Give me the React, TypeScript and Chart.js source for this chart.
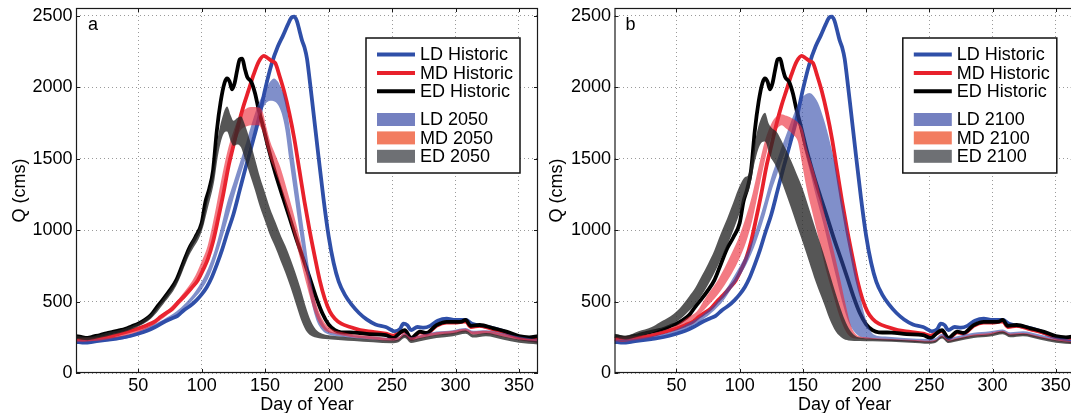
import React, { useEffect, useRef } from "react";
import { Chart, registerables } from "chart.js";
Chart.register(...registerables);

type P = [number, number];

// ---------- tick labels ----------
const xTicks = [50, 100, 150, 200, 250, 300, 350];
const yTicks = [0, 500, 1000, 1500, 2000, 2500];

// ---------- historic series (day, Q) ----------
const ldHistoric: P[] = [[1,218],[8,212],[15,220],[22,228],[30,238],[40,252],[50,275],[57,295],[63,320],[70,355],[76,380],[81,400],[86,440],[91,470],[96,510],[100,550],[104,600],[108,670],[112,760],[116,860],[120,975],[125,1110],[130,1280],[135,1450],[140,1610],[145,1780],[150,1985],[155,2160],[160,2285],[164,2360],[168,2440],[171,2490],[173,2495],[175,2465],[177,2400],[179,2330],[181,2280],[183,2200],[185,2060],[188,1830],[192,1520],[196,1220],[200,960],[204,770],[208,640],[213,545],[218,480],[224,420],[230,375],[237,340],[245,322],[252,292],[256,305],[259,345],[262,335],[265,300],[270,322],[275,318],[280,330],[286,365],[293,380],[300,372],[308,372],[313,345],[320,330],[328,318],[337,295],[346,262],[355,238],[365,228]];
const mdHistoric: P[] = [[1,238],[8,232],[15,240],[22,250],[30,262],[40,285],[50,312],[57,335],[63,360],[68,395],[72,420],[77,450],[82,500],[87,545],[92,595],[97,650],[101,720],[105,800],[109,920],[113,1080],[117,1250],[121,1440],[125,1590],[129,1740],[133,1870],[137,1980],[141,2090],[145,2180],[149,2220],[152,2205],[155,2185],[158,2170],[161,2090],[165,1970],[169,1820],[173,1640],[177,1420],[181,1200],[185,1000],[189,820],[193,650],[197,520],[201,430],[205,380],[210,345],[217,322],[225,300],[235,288],[245,275],[251,262],[256,278],[260,295],[265,240],[272,285],[277,275],[285,330],[293,352],[301,352],[308,362],[312,322],[319,330],[330,305],[340,282],[350,250],[358,242],[365,248]];
const edHistoric: P[] = [[1,258],[5,252],[10,246],[15,256],[20,266],[25,278],[30,288],[35,298],[40,310],[45,328],[50,345],[55,370],[60,405],[65,465],[70,520],[75,580],[80,650],[85,760],[90,870],[95,950],[100,1050],[103,1200],[106,1290],[109,1420],[112,1700],[115,1900],[118,2030],[120,2062],[122,2040],[124,1985],[126,2030],[128,2120],[130,2195],[132,2200],[134,2130],[136,2070],[139,2040],[142,1960],[145,1840],[148,1740],[153,1560],[158,1400],[164,1230],[169,1095],[174,955],[180,800],[185,670],[190,535],[195,420],[200,340],[205,300],[210,285],[220,283],[232,272],[245,265],[251,245],[256,280],[260,300],[265,245],[272,290],[277,280],[285,335],[293,358],[301,358],[305,360],[308,372],[312,330],[319,336],[330,313],[340,290],[350,258],[358,250],[365,258]];

// ---------- 2050 ranges (upper / lower envelopes) ----------
const ld2050Upper: P[] = [[1,232],[20,240],[40,262],[50,292],[60,330],[70,375],[80,430],[88,495],[95,570],[100,640],[105,730],[110,850],[115,1010],[120,1190],[125,1330],[130,1470],[135,1610],[140,1760],[145,1890],[150,1975],[154,2040],[157,2062],[160,2040],[163,1985],[166,1910],[169,1740],[173,1480],[177,1220],[181,960],[185,710],[190,480],[195,360],[200,300],[208,280],[220,265],[235,255],[250,245],[255,250],[260,280],[265,250],[272,265],[285,290],[298,300],[308,315],[314,295],[324,300],[337,280],[350,255],[365,235]];
const ld2050Lower: P[] = [[1,210],[20,218],[40,240],[50,268],[60,305],[70,350],[80,400],[88,462],[95,530],[100,585],[105,660],[110,770],[115,910],[120,1060],[125,1220],[130,1370],[135,1510],[140,1650],[145,1790],[150,1880],[154,1905],[157,1902],[160,1880],[163,1820],[166,1700],[169,1500],[173,1250],[177,1000],[181,780],[185,560],[190,380],[195,300],[200,270],[208,258],[220,242],[235,232],[250,222],[255,227],[260,257],[265,227],[272,242],[285,267],[298,277],[308,292],[314,272],[324,277],[337,257],[350,232],[365,212]];
const md2050Upper: P[] = [[1,245],[20,252],[40,285],[50,312],[60,350],[70,415],[80,500],[90,610],[95,680],[100,780],[105,900],[110,1100],[115,1330],[120,1540],[125,1690],[130,1805],[135,1850],[140,1862],[145,1858],[148,1830],[151,1720],[154,1620],[158,1530],[162,1440],[167,1290],[172,1130],[177,955],[182,770],[187,590],[192,440],[197,350],[203,305],[211,285],[220,270],[235,258],[250,245],[255,250],[260,278],[265,248],[272,262],[285,285],[298,295],[308,310],[314,290],[324,295],[337,275],[350,250],[365,232]];
const md2050Lower: P[] = [[1,220],[20,228],[40,262],[50,288],[60,325],[70,385],[80,460],[90,555],[95,615],[100,700],[105,800],[110,960],[115,1160],[120,1370],[125,1560],[130,1690],[135,1725],[140,1735],[145,1735],[148,1690],[151,1590],[154,1500],[158,1410],[162,1310],[167,1150],[172,990],[177,820],[182,640],[187,480],[192,360],[197,300],[203,278],[211,262],[220,248],[235,235],[250,222],[255,227],[260,255],[265,225],[272,240],[285,262],[298,272],[308,287],[314,267],[324,272],[337,252],[350,228],[365,210]];
const ed2050Upper: P[] = [[1,262],[10,252],[20,270],[30,292],[40,314],[50,350],[60,412],[70,525],[80,655],[90,880],[100,1060],[105,1250],[110,1460],[113,1660],[117,1810],[120,1865],[123,1800],[125,1765],[128,1785],[131,1795],[134,1740],[138,1630],[142,1500],[146,1370],[150,1260],[154,1150],[158,1060],[162,970],[166,890],[170,800],[174,700],[178,590],[182,465],[186,365],[190,305],[195,275],[200,265],[210,255],[220,245],[235,235],[250,228],[255,235],[260,268],[265,232],[272,245],[285,268],[298,280],[308,298],[314,270],[324,280],[337,258],[350,235],[365,222]];
const ed2050Lower: P[] = [[1,238],[10,230],[20,246],[30,268],[40,290],[50,325],[60,380],[70,485],[80,610],[90,820],[100,990],[105,1160],[110,1350],[113,1530],[117,1670],[120,1690],[123,1620],[125,1590],[128,1600],[131,1580],[134,1500],[138,1390],[142,1280],[146,1160],[150,1060],[154,960],[158,880],[162,790],[166,700],[170,600],[174,490],[178,380],[182,300],[186,262],[190,248],[195,240],[200,236],[210,230],[220,224],[235,215],[250,208],[255,215],[260,245],[265,210],[272,222],[285,245],[298,258],[308,275],[314,248],[324,258],[337,235],[350,212],[365,200]];

// ---------- 2100 ranges (upper / lower envelopes) ----------
const ld2100Upper: P[] = [[1,240],[20,248],[40,275],[50,305],[60,350],[70,405],[80,480],[87,555],[93,640],[98,715],[105,830],[110,930],[115,1060],[120,1210],[125,1370],[130,1500],[135,1625],[140,1745],[145,1860],[148,1915],[152,1950],[155,1960],[158,1945],[162,1890],[166,1790],[169,1700],[174,1515],[179,1290],[184,1060],[189,830],[194,600],[198,430],[202,320],[206,270],[215,255],[230,245],[250,238],[255,245],[260,275],[265,245],[272,258],[285,282],[298,292],[308,305],[314,285],[324,292],[337,270],[350,248],[365,230]];
const ld2100Lower: P[] = [[1,218],[20,225],[40,252],[50,280],[60,320],[70,370],[80,440],[87,505],[93,585],[98,650],[105,755],[110,850],[115,970],[120,1110],[125,1270],[130,1400],[135,1525],[140,1645],[145,1750],[148,1700],[151,1570],[155,1430],[160,1250],[166,1050],[171,865],[176,680],[181,500],[186,360],[191,285],[196,250],[205,235],[215,228],[230,222],[250,215],[255,222],[260,252],[265,222],[272,235],[285,260],[298,270],[308,283],[314,262],[324,270],[337,248],[350,225],[365,208]];
const md2100Upper: P[] = [[1,250],[20,262],[40,300],[50,335],[60,395],[66,430],[74,540],[82,640],[88,735],[94,845],[100,965],[105,1095],[110,1250],[115,1445],[120,1625],[125,1745],[129,1795],[133,1812],[137,1800],[142,1780],[147,1745],[150,1700],[153,1575],[158,1435],[163,1270],[168,1080],[174,870],[179,675],[184,470],[188,330],[192,270],[200,250],[210,242],[220,238],[235,232],[250,225],[255,232],[260,262],[265,232],[272,245],[285,270],[298,280],[308,295],[314,275],[324,280],[337,258],[350,236],[365,220]];
const md2100Lower: P[] = [[1,228],[20,240],[40,278],[50,310],[60,360],[66,392],[74,462],[82,540],[88,615],[94,700],[100,805],[105,915],[110,1070],[115,1280],[120,1490],[125,1650],[129,1705],[133,1735],[137,1710],[142,1670],[146,1620],[149,1480],[153,1290],[158,1105],[163,920],[168,730],[174,545],[179,395],[184,290],[188,250],[195,238],[205,232],[220,225],[235,220],[250,212],[255,218],[260,248],[265,218],[272,230],[285,255],[298,265],[308,280],[314,260],[324,265],[337,243],[350,222],[365,205]];
const ed2100Upper: P[] = [[1,275],[10,262],[20,292],[30,320],[37,356],[45,395],[50,430],[55,478],[60,535],[65,598],[70,680],[75,765],[80,860],[85,975],[90,1080],[95,1195],[100,1310],[104,1370],[107,1390],[110,1520],[114,1700],[117,1785],[120,1822],[123,1745],[126,1710],[129,1690],[134,1610],[140,1500],[145,1395],[150,1285],[156,1120],[161,980],[166,845],[171,700],[176,555],[181,420],[185,335],[190,270],[195,248],[205,240],[220,234],[235,228],[250,220],[255,228],[260,258],[265,226],[272,240],[285,262],[298,272],[308,290],[314,268],[324,275],[337,252],[350,230],[365,215]];
const ed2100Lower: P[] = [[1,250],[10,236],[20,258],[30,280],[37,305],[45,332],[50,358],[55,392],[60,435],[65,482],[70,545],[75,618],[80,700],[85,795],[90,890],[95,1000],[100,1120],[104,1220],[108,1300],[112,1480],[117,1610],[120,1620],[124,1520],[129,1440],[134,1320],[140,1170],[145,1040],[150,910],[155,775],[160,640],[166,500],[171,380],[176,290],[181,245],[186,228],[195,224],[205,222],[220,218],[235,212],[250,205],[255,212],[260,242],[265,210],[272,222],[285,245],[298,255],[308,272],[314,250],[324,258],[337,235],[350,212],[365,200]];

// ---------- styles ----------
const FONT = "'Liberation Sans', Arial, Helvetica, sans-serif";
const LD_LINE = "#2f4fa8";
const MD_LINE = "#e8212b";
const ED_LINE = "#000000";
const LD_BAND = "rgba(50,75,170,0.62)";
const MD_BAND = "rgba(236,40,55,0.62)";
const ED_BAND = "rgba(38,38,38,0.78)";
const LD_SWATCH = "#7480c0";
const MD_SWATCH = "#f27c60";
const ED_SWATCH = "#6e7074";

const toPts = (a: P[]) => a.map(([x, y]) => ({ x, y }));

const framePlugin = {
  id: "frameTicks",
  afterDatasetsDraw(chart: any) {
    const { ctx, chartArea, scales } = chart;
    const { left, right, top, bottom } = chartArea;
    ctx.save();
    ctx.strokeStyle = "#1a1a1a";
    ctx.lineWidth = 1;
    ctx.beginPath();
    for (const t of xTicks) {
      const px = Math.round(scales.x.getPixelForValue(t)) + 0.5;
      ctx.moveTo(px, bottom); ctx.lineTo(px, bottom - 4);
      ctx.moveTo(px, top); ctx.lineTo(px, top + 4);
    }
    for (const t of yTicks) {
      const py = Math.round(scales.y.getPixelForValue(t)) + 0.5;
      ctx.moveTo(left, py); ctx.lineTo(left + 4, py);
      ctx.moveTo(right, py); ctx.lineTo(right - 4, py);
    }
    ctx.stroke();
    ctx.lineWidth = 1.2;
    ctx.strokeRect(left + 0.5, top + 0.5, right - left - 1, bottom - top - 1);
    ctx.restore();
  },
};

const legendPlugin = {
  id: "boxLegend",
  afterDraw(chart: any, _args: any, opts: any) {
    const { ctx, chartArea } = chart;
    const w = 154, h = 135;
    const bx = chartArea.right - opts.rightGap - w;
    const by = chartArea.top + 30;
    ctx.save();
    ctx.fillStyle = "#ffffff";
    ctx.fillRect(bx, by, w, h);
    ctx.strokeStyle = "#111";
    ctx.lineWidth = 1.5;
    ctx.strokeRect(bx, by, w, h);
    ctx.font = `18px ${FONT}`;
    ctx.textBaseline = "middle";
    ctx.textAlign = "left";
    (opts.items as any[]).forEach((it, i) => {
      const cy = i < 3 ? by + 16.5 + i * 18.4 : by + 81.5 + (i - 3) * 18.4;
      if (it.kind === "line") {
        ctx.strokeStyle = it.color;
        ctx.lineWidth = 4;
        ctx.beginPath();
        ctx.moveTo(bx + 11, cy);
        ctx.lineTo(bx + 49, cy);
        ctx.stroke();
      } else {
        ctx.fillStyle = it.color;
        ctx.fillRect(bx + 11, cy - 6.5, 38, 13);
      }
      ctx.fillStyle = "#000";
      ctx.fillText(it.label, bx + 54, cy + 1);
    });
    ctx.font = `18px ${FONT}`;
    ctx.textBaseline = "alphabetic";
    ctx.fillStyle = "#000";
    ctx.fillText(opts.letter, chartArea.left + opts.letterDx, chartArea.top + 22);
    ctx.restore();
  },
};

type Band = { upper: P[]; lower: P[]; color: string; swatch: string; label: string };

function buildConfig(letter: string, bands: Band[], yAxisW: number, padRight: number, titlePad: number, letterDx: number) {
  const lineDs = (data: P[], color: string, ord: number) => ({
    data: toPts(data),
    borderColor: color,
    borderWidth: 3.8,
    pointRadius: 0,
    fill: false,
    cubicInterpolationMode: "monotone",
    order: ord,
  });
  const datasets: any[] = [
    lineDs(ldHistoric, LD_LINE, 12),
    lineDs(mdHistoric, MD_LINE, 11),
    lineDs(edHistoric, ED_LINE, 10),
  ];
  bands.forEach((b, i) => {
    datasets.push({
      data: toPts(b.upper),
      borderColor: "rgba(0,0,0,0)",
      borderWidth: 1,
      pointRadius: 0,
      fill: false,
      cubicInterpolationMode: "monotone",
      order: 5 - i,
    });
    datasets.push({
      data: toPts(b.lower),
      borderColor: "rgba(0,0,0,0)",
      borderWidth: 1,
      pointRadius: 0,
      backgroundColor: b.color,
      fill: "-1",
      cubicInterpolationMode: "monotone",
      order: 5 - i,
    });
  });
  const tickFont = { family: FONT, size: 18 };
  const noPad = (s: any) => { s.paddingTop = 0; s.paddingBottom = 0; s.paddingLeft = 0; s.paddingRight = 0; };
  return {
    type: "line",
    data: { datasets },
    options: {
      animation: false,
      responsive: false,
      events: [],
      layout: { padding: { left: 0, right: padRight, top: 8, bottom: 0 } },
      plugins: {
        legend: { display: false },
        tooltip: { enabled: false },
        boxLegend: {
          rightGap: 18,
          letter,
          letterDx,
          items: [
            { label: "LD Historic", kind: "line", color: LD_LINE },
            { label: "MD Historic", kind: "line", color: MD_LINE },
            { label: "ED Historic", kind: "line", color: ED_LINE },
            ...bands.map((b) => ({ label: b.label, kind: "box", color: b.swatch })),
          ],
        },
      },
      scales: {
        x: {
          type: "linear",
          min: 1,
          max: 365,
          afterBuildTicks: (s: any) => { s.ticks = xTicks.map((v) => ({ value: v })); },
          afterFit: (s: any) => { s.height = 47; noPad(s); },
          ticks: { font: tickFont, color: "#000", padding: 2, maxRotation: 0, autoSkip: false, callback: (v: any) => String(v) },
          grid: { color: "#9a9a9a", lineWidth: 1, drawTicks: false, borderDash: [1, 3] },
          border: { display: false, dash: [1, 3] },
          title: { display: true, text: "Day of Year", font: tickFont, color: "#000", padding: { top: 0, bottom: 4 } },
        },
        y: {
          type: "linear",
          min: 0,
          max: 2555,
          afterBuildTicks: (s: any) => { s.ticks = yTicks.map((v) => ({ value: v })); },
          afterFit: (s: any) => { s.width = yAxisW; noPad(s); },
          ticks: { font: tickFont, color: "#000", padding: 3.5, autoSkip: false, callback: (v: any) => String(v) },
          grid: { color: "#9a9a9a", lineWidth: 1, drawTicks: false, borderDash: [1, 3] },
          border: { display: false, dash: [1, 3] },
          title: { display: true, text: "Q (cms)", font: tickFont, color: "#000", padding: { top: titlePad, bottom: 0 } },
        },
      },
    },
    plugins: [framePlugin, legendPlugin],
  };
}

const bands2050: Band[] = [
  { upper: ld2050Upper, lower: ld2050Lower, color: LD_BAND, swatch: LD_SWATCH, label: "LD 2050" },
  { upper: md2050Upper, lower: md2050Lower, color: MD_BAND, swatch: MD_SWATCH, label: "MD 2050" },
  { upper: ed2050Upper, lower: ed2050Lower, color: ED_BAND, swatch: ED_SWATCH, label: "ED 2050" },
];
const bands2100: Band[] = [
  { upper: ld2100Upper, lower: ld2100Lower, color: LD_BAND, swatch: LD_SWATCH, label: "LD 2100" },
  { upper: md2100Upper, lower: md2100Lower, color: MD_BAND, swatch: MD_SWATCH, label: "MD 2100" },
  { upper: ed2100Upper, lower: ed2100Lower, color: ED_BAND, swatch: ED_SWATCH, label: "ED 2100" },
];

export default function App() {
  const refA = useRef<HTMLCanvasElement>(null);
  const refB = useRef<HTMLCanvasElement>(null);
  useEffect(() => {
    document.body.style.margin = "0";
    const a = new Chart(refA.current as HTMLCanvasElement, buildConfig("a", bands2050, 76, 7, 9, 12) as any);
    const b = new Chart(refB.current as HTMLCanvasElement, buildConfig("b", bands2100, 69.5, 15.2, 1, 11) as any);
    return () => { a.destroy(); b.destroy(); };
  }, []);
  return (
    <div style={{ position: "fixed", left: 0, top: 0, width: 1071, height: 413, overflow: "hidden", background: "#fff" }}>
      <canvas ref={refA} width={545} height={420} style={{ position: "absolute", left: 0, top: 0, width: 545, height: 420 }} />
      <canvas ref={refB} width={545} height={420} style={{ position: "absolute", left: 545, top: 0, width: 545, height: 420 }} />
    </div>
  );
}
